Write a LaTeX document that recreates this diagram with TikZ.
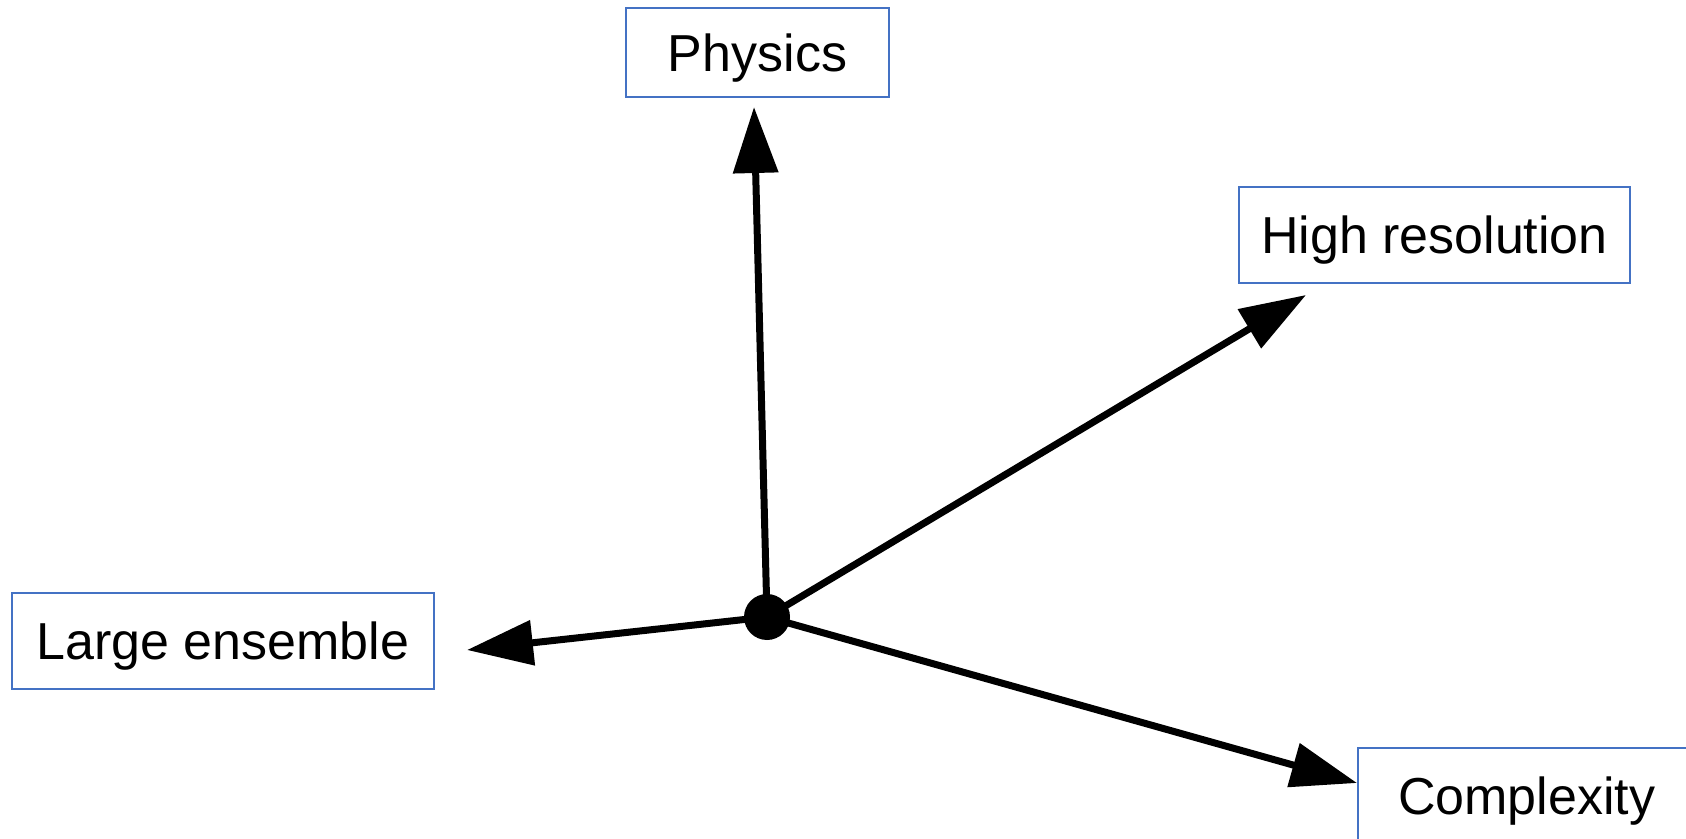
\documentclass[tikz,border=0pt]{standalone}
\usepackage{fontspec}
\setmainfont{Liberation Sans}
\usetikzlibrary{arrows.meta}
\definecolor{boxblue}{RGB}{68,114,196}
\newcommand{\lowtext}[1]{\raisebox{-2.7pt}[\height][\depth]{#1}}
\tikzset{
  label box/.style={draw=boxblue, line width=0.75pt, rectangle, inner sep=0pt,
    font=\fontsize{26}{30}\selectfont, text=black},
  axis arrow/.style={line width=3.5pt, -{Triangle[length=33pt,width=22pt]}},
  hub/.style={circle, fill=black, inner sep=0pt, minimum size=23pt}
}
\begin{document}
\begin{tikzpicture}[x=0.5pt,y=-0.5pt]
\useasboundingbox (0,0) rectangle (1686,839);
\clip (0,0) rectangle (1686,839);
\node[label box, minimum width=131.5pt, minimum height=44.5pt] (phys) at (757.5,52.5) {\lowtext{Physics}};
\node[label box, minimum width=195.5pt, minimum height=48pt] (hires) at (1434.5,235) {\lowtext{High resolution}};
\node[label box, minimum width=211pt, minimum height=48pt] (ens) at (223,641) {\lowtext{Large ensemble}};
\node[label box, minimum width=166pt, minimum height=48pt, anchor=north west] (cplx) at (1357,747) {\lowtext{\hspace*{3pt}Complexity}};
\coordinate (tphys) at (754,107);
\coordinate (thires) at (1306,295);
\coordinate (tens) at (467,650);
\coordinate (tcplx) at (1357,783);
\coordinate (c) at (767,617);
\draw[axis arrow] (c) -- (tphys);
\draw[axis arrow] (c) -- (thires);
\draw[axis arrow] (c) -- (tens);
\draw[axis arrow] (c) -- (tcplx);
\node[hub] (dot) at (c) {};
\end{tikzpicture}
\end{document}
